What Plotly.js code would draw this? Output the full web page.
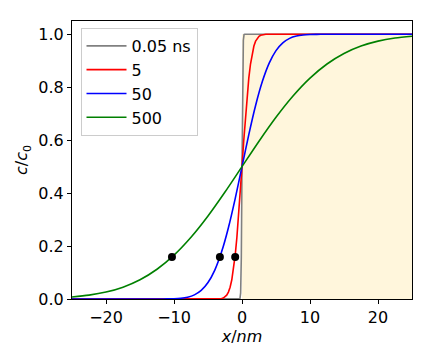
<!DOCTYPE html>
<html>
<head>
<meta charset="utf-8">
<script src="https://cdn.plot.ly/plotly-3.0.1.min.js"></script>
<style>html,body{margin:0;padding:0;background:#fff;}#chart{width:432px;height:360px;}</style>
</head>
<body>
<div id="chart"></div>
<script>
// Shaded region (x >= 0)
const shadeX = [0, 25];
const shadeY = [1, 1];

// 0.05 ns
const x005 = [-25, -0.4, -0.3, -0.2, -0.1, 0, 0.1, 0.2, 0.3, 0.4, 25];
const y005 = [0, 0, 0.0013, 0.0228, 0.1587, 0.5, 0.8413, 0.9772, 0.9987, 1, 1];

// 5 ns
const x5 = [-25, -4, -3.5, -3.25, -3, -2.75, -2.5, -2.25, -2, -1.75, -1.5, -1.25, -1, -0.75, -0.5, -0.25, 0,
            0.25, 0.5, 0.75, 1, 1.25, 1.5, 1.75, 2, 2.25, 2.5, 2.75, 3, 3.25, 3.5, 4, 25];
const y5 = [0, 0.0001, 0.0003, 0.0008, 0.0018, 0.0038, 0.0076, 0.0145, 0.0261, 0.0447, 0.0727, 0.1124, 0.1658, 0.2333, 0.3137, 0.4041, 0.5,
            0.5959, 0.6863, 0.7667, 0.8342, 0.8876, 0.9273, 0.9553, 0.9739, 0.9855, 0.9924, 0.9962, 0.9982, 0.9992, 0.9997, 0.9999, 1];

// 50 ns
const x50 = [-25, -14, -12, -11, -10, -9, -8, -7, -6, -5, -4, -3, -2, -1, 0, 1, 2, 3, 4, 5, 6, 7, 8, 9, 10, 11, 12, 14, 25];
const y50 = [0, 0, 0.0001, 0.0004, 0.0010, 0.0028, 0.0069, 0.0156, 0.0324, 0.0620, 0.1092, 0.1780, 0.2692, 0.3791, 0.5,
             0.6209, 0.7308, 0.8220, 0.8908, 0.9380, 0.9676, 0.9844, 0.9931, 0.9972, 0.9990, 0.9996, 0.9999, 1, 1];

// 500 ns
const x500 = [-25, -22.5, -20, -17.5, -15, -12.5, -10, -7.5, -5, -2.5, 0, 2.5, 5, 7.5, 10, 12.5, 15, 17.5, 20, 22.5, 25];
const y500 = [0.0076, 0.0145, 0.0261, 0.0447, 0.0727, 0.1124, 0.1658, 0.2333, 0.3137, 0.4041, 0.5,
              0.5959, 0.6863, 0.7667, 0.8342, 0.8876, 0.9273, 0.9553, 0.9739, 0.9855, 0.9924];

// Black markers
const dotX = [-10.3, -3.25, -1.0];
const dotY = [0.159, 0.159, 0.159];

const legendNames = ['0.05 ns', '5', '50', '500'];
const colors = ['#808080', '#ff0000', '#0000ff', '#008000'];

const traces = [
  {x: shadeX, y: shadeY, type: 'scatter', mode: 'none', fill: 'tozeroy', fillcolor: '#fff6dc', showlegend: false, hoverinfo: 'skip'},
  {x: x005, y: y005, type: 'scatter', mode: 'lines', name: legendNames[0], line: {color: colors[0], width: 1.6}},
  {x: x5, y: y5, type: 'scatter', mode: 'lines', name: legendNames[1], line: {color: colors[1], width: 1.6}},
  {x: x50, y: y50, type: 'scatter', mode: 'lines', name: legendNames[2], line: {color: colors[2], width: 1.6, shape: 'spline', smoothing: 0.8}},
  {x: x500, y: y500, type: 'scatter', mode: 'lines', name: legendNames[3], line: {color: colors[3], width: 1.6, shape: 'spline', smoothing: 0.8}},
  {x: dotX, y: dotY, type: 'scatter', mode: 'markers', showlegend: false, marker: {color: 'black', size: 8}}
];

const axisCommon = {
  showline: true, mirror: true, linecolor: 'black', linewidth: 1,
  ticks: 'outside', ticklen: 4, tickwidth: 1, tickcolor: 'black',
  showgrid: false, zeroline: false,
  tickfont: {family: 'DejaVu Sans', size: 16, color: 'black'}
};

const layout = {
  width: 432, height: 360,
  margin: {l: 72, r: 20, t: 21, b: 61},
  paper_bgcolor: 'white', plot_bgcolor: 'white',
  font: {family: 'DejaVu Sans', color: 'black'},
  xaxis: Object.assign({}, axisCommon, {
    range: [-25, 25], tickvals: [-20, -10, 0, 10, 20],
    title: {text: '<i>x</i>/<i>nm</i>', font: {family: 'DejaVu Sans', size: 16}, standoff: 4}
  }),
  yaxis: Object.assign({}, axisCommon, {
    range: [0, 1.05], tickvals: [0, 0.2, 0.4, 0.6, 0.8, 1.0], tickformat: '.1f',
    title: {text: '<i>c</i>/<i>c</i><sub>0</sub>', font: {family: 'DejaVu Sans', size: 16}, standoff: 6}
  }),
  legend: {
    x: 0.025, y: 0.975, xanchor: 'left', yanchor: 'top',
    bgcolor: 'rgba(255,255,255,0.9)', bordercolor: '#cccccc', borderwidth: 1,
    itemwidth: 40,
    font: {family: 'DejaVu Sans', size: 16, color: 'black'}
  },
  showlegend: true
};

Plotly.newPlot('chart', traces, layout, {displayModeBar: false, staticPlot: true});
</script>
</body>
</html>
